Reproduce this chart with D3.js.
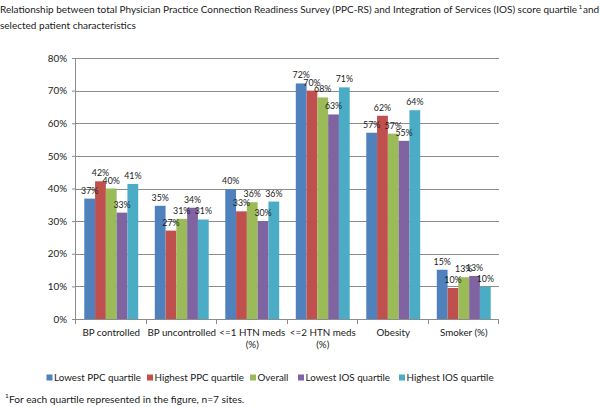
<!DOCTYPE html>
<html><head><meta charset="utf-8">
<script src="https://cdn.jsdelivr.net/npm/d3@7"></script>
<style>body{margin:0;background:#fff}svg{display:block;font-family:Lato,"Open Sans",sans-serif}</style>
</head><body><svg id="c" width="600" height="407"></svg>
<script>
const categories = [["BP controlled"],["BP uncontrolled"],["<=1 HTN meds","(%)"],["<=2 HTN meds","(%)"],["Obesity"],["Smoker (%)"]];
const seriesNames = ["Lowest PPC quartile","Highest PPC quartile","Overall","Lowest IOS quartile","Highest IOS quartile"];
const colors = ["#4F81BD","#C0504D","#9BBB59","#8064A2","#4BACC6"];
const lowestPPC  = [36.9, 34.7, 39.7, 72.2, 57.1, 15.1];
const highestPPC = [42.2, 27.1, 33.0, 70.0, 62.3, 9.5];
const overall    = [40.0, 30.7, 35.8, 67.9, 56.8, 12.8];
const lowestIOS  = [32.6, 34.1, 30.0, 62.7, 54.6, 13.2];
const highestIOS = [41.4, 30.5, 36.0, 71.0, 64.0, 9.9];
const yTicks = [0,10,20,30,40,50,60,70,80];
const series = [lowestPPC, highestPPC, overall, lowestIOS, highestIOS];

const svg = d3.select("#c");
const m = {l:76, r:101, t:58, b:88};
const W = 600, H = 407;
const x0 = d3.scaleBand().domain(d3.range(categories.length)).range([m.l, W-m.r]).paddingInner(0.235).paddingOuter(0.1175);
const x1 = d3.scaleBand().domain(d3.range(series.length)).range([0, x0.bandwidth()]);
const y = d3.scaleLinear().domain([0,80]).range([H-m.b, m.t]);
const txt = "#1a1a1a";

// title
svg.append("text").attr("x",0).attr("y",13).attr("font-size",10).attr("fill",txt)
  .attr("textLength",577).attr("lengthAdjust","spacingAndGlyphs")
  .text("Relationship between total Physician Practice Connection Readiness Survey (PPC-RS) and Integration of Services (IOS) score quartile");
svg.append("text").attr("x",578.5).attr("y",9).attr("font-size",6.5).attr("fill",txt).text("1");
svg.append("text").attr("x",583).attr("y",13).attr("font-size",10).attr("fill",txt).text("and");
svg.append("text").attr("x",0).attr("y",29).attr("font-size",10).attr("fill",txt).text("selected patient characteristics");

// grid
svg.append("g").selectAll("line").data(yTicks.filter(d=>d>0)).join("line")
  .attr("x1",m.l).attr("x2",W-m.r).attr("y1",d=>Math.round(y(d))+0.5).attr("y2",d=>Math.round(y(d))+0.5)
  .attr("stroke","#8c8c8c").attr("stroke-width",1);

// y axis
const ya = svg.append("g").attr("transform",`translate(${m.l},0)`)
  .call(d3.axisLeft(y).tickValues(yTicks).tickFormat(d=>d+"%").tickSize(4).tickPadding(5));
ya.select(".domain").attr("stroke","#8c8c8c").attr("d",`M-0.5,${y(80)}V${y(0)}`);
ya.selectAll(".tick line").attr("stroke","#8c8c8c");
ya.selectAll("text").attr("font-size",9.8).attr("fill",txt).attr("font-family","Lato");

// bars
const groups = svg.append("g").selectAll("g").data(categories).join("g")
  .attr("transform",(d,i)=>`translate(${x0(i)},0)`);
groups.selectAll("rect").data((d,i)=>series.map((s,j)=>({j, v:s[i]}))).join("rect")
  .attr("x",d=>x1(d.j)).attr("width",x1.bandwidth())
  .attr("y",d=>y(d.v)).attr("height",d=>y(0)-y(d.v))
  .attr("fill",d=>colors[d.j]);
groups.selectAll("text.lab").data((d,i)=>series.map((s,j)=>({j, v:s[i]}))).join("text")
  .attr("class","lab")
  .attr("x",d=>x1(d.j)+x1.bandwidth()/2).attr("y",d=>y(d.v)-5)
  .attr("text-anchor","middle").attr("font-size",8.8).attr("fill",txt)
  .text(d=>Math.round(d.v)+"%");

// x axis
const xa = svg.append("g");
xa.append("line").attr("x1",m.l).attr("x2",W-m.r).attr("y1",y(0)+0.5).attr("y2",y(0)+0.5).attr("stroke","#8c8c8c");
const bounds = d3.range(categories.length+1).map(i=> m.l + i*(W-m.r-m.l)/categories.length);
xa.selectAll("line.t").data(bounds).join("line").attr("class","t")
  .attr("x1",d=>Math.round(d)-0.5).attr("x2",d=>Math.round(d)-0.5).attr("y1",y(0)).attr("y2",y(0)+5).attr("stroke","#8c8c8c");
const cl = xa.selectAll("text.c").data(categories).join("text").attr("class","c")
  .attr("text-anchor","middle").attr("font-size",9.8).attr("fill",txt)
  .attr("transform",(d,i)=>`translate(${x0(i)+x0.bandwidth()/2},${y(0)+17})`);
cl.selectAll("tspan").data(d=>d).join("tspan").attr("x",0).attr("dy",(d,k)=>k?12:0).text(d=>d);

// legend
const legX = [46.5, 147, 250, 298, 399];
const lg = svg.append("g").selectAll("g").data(seriesNames).join("g")
  .attr("transform",(d,i)=>`translate(${legX[i]},377.5)`);
lg.append("rect").attr("x",0).attr("y",-3).attr("width",6).attr("height",6).attr("fill",(d,i)=>colors[i]);
lg.append("text").attr("x",7.5).attr("y",3.5).attr("font-size",9.8).attr("fill",txt).text(d=>d);

// footnote
svg.append("text").attr("x",5).attr("y",398).attr("font-size",6.5).attr("fill",txt).text("1");
svg.append("text").attr("x",9).attr("y",402.5).attr("font-size",10.2).attr("fill",txt)
  .text("For each quartile represented in the figure, n=7 sites.");
</script></body></html>
